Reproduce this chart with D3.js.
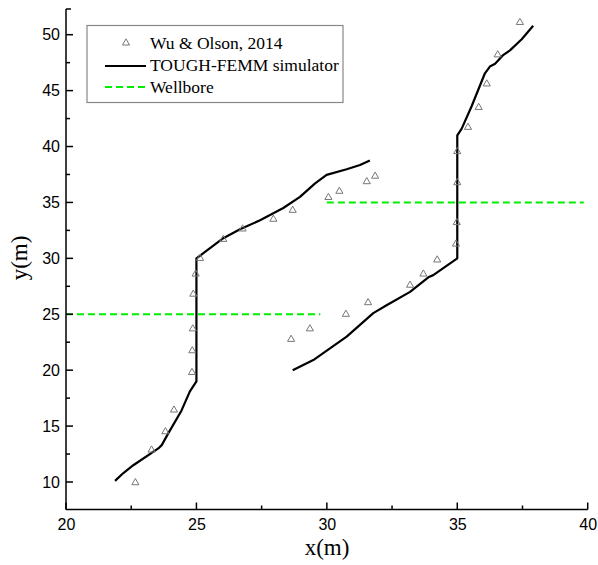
<!DOCTYPE html>
<html>
<head>
<meta charset="utf-8">
<script src="https://cdn.jsdelivr.net/npm/d3@7"></script>
<style>
  body { margin: 0; background: #fff; }
  svg { display: block; }
</style>
</head>
<body>
<svg id="chart" width="598" height="565"></svg>
<script>
// ---- Data ----
const wuOlsonX = [22.66, 23.28, 23.81, 24.14, 24.83, 24.84, 24.86, 24.88, 24.97, 25.14,
  26.03, 26.77, 27.95, 28.69, 30.06, 30.48, 31.53, 31.85,
  28.63, 29.35, 30.73, 31.58, 33.19, 33.70, 34.23, 34.95, 34.98, 35.0, 35.0,
  35.41, 35.82, 36.13, 36.55, 37.40];
const wuOlsonY = [9.94, 12.86, 14.5, 16.44, 19.8, 21.74, 23.7, 26.8, 28.6, 30.0,
  31.7, 32.63, 33.5, 34.3, 35.45, 36.0, 36.86, 37.35,
  22.76, 23.7, 25.0, 26.04, 27.6, 28.6, 29.86, 31.28, 33.2, 36.77, 39.55,
  41.72, 43.5, 45.6, 48.2, 51.1];

const simLeftX = [21.88, 22.2, 22.58, 23.54, 23.67, 23.92, 24.43, 24.75, 25.0, 25.0,
  26.03, 26.67, 27.44, 28.33, 28.97, 29.55, 29.99, 30.76, 31.27, 31.65];
const simLeftY = [10.1, 10.8, 11.5, 13.0, 13.3, 14.35, 16.4, 18.1, 19.0, 30.0,
  31.8, 32.6, 33.4, 34.5, 35.5, 36.7, 37.46, 37.97, 38.35, 38.75];

const simRightX = [28.69, 29.48, 30.76, 31.78, 32.29, 33.19, 33.89, 34.08, 35.0, 35.0,
  35.17, 35.55, 36.06, 36.25, 36.45, 36.77, 37.02, 37.47, 37.91];
const simRightY = [20.0, 20.9, 23.0, 25.1, 25.8, 27.0, 28.3, 28.5, 30.0, 41.0,
  41.6, 43.6, 46.55, 47.15, 47.4, 48.2, 48.6, 49.6, 50.8];

const wellboreX1 = [20, 29.75];
const wellboreY1 = [25, 25];
const wellboreX2 = [30, 39.85];
const wellboreY2 = [35, 35];

const xTicks = [20, 25, 30, 35, 40];
const yTicks = [10, 15, 20, 25, 30, 35, 40, 45, 50];
const xMinor = [22.5, 27.5, 32.5, 37.5];
const yMinor = [12.5, 17.5, 22.5, 27.5, 32.5, 37.5, 42.5, 47.5];
const legendLabels = ["Wu & Olson, 2014", "TOUGH-FEMM simulator", "Wellbore"];

// ---- Scales ----
const svg = d3.select("#chart");
const x = d3.scaleLinear().domain([20, 40]).range([66, 587.7]);
const y = d3.scaleLinear().domain([10, 50]).range([482, 34.7]);
const yBottom = 509.5, yTop = 9;

const pts = (xs, ys) => xs.map((v, i) => [v, ys[i]]);
const line = d3.line().x(d => x(d[0])).y(d => y(d[1]));

// Wellbore lines
[[wellboreX1, wellboreY1], [wellboreX2, wellboreY2]].forEach(([xs, ys]) => {
  svg.append("path").attr("d", line(pts(xs, ys)))
    .attr("fill", "none").attr("stroke", "#00ee00")
    .attr("stroke-width", 2).attr("stroke-dasharray", "7,4");
});

// Simulator lines
[[simLeftX, simLeftY], [simRightX, simRightY]].forEach(([xs, ys]) => {
  svg.append("path").attr("d", line(pts(xs, ys)))
    .attr("fill", "none").attr("stroke", "#000")
    .attr("stroke-width", 2.2).attr("stroke-linejoin", "round");
});

// Triangles
const tri = d3.symbol().type(d3.symbolTriangle).size(22);
svg.append("g").selectAll("path").data(pts(wuOlsonX, wuOlsonY)).join("path")
  .attr("d", tri)
  .attr("transform", d => `translate(${x(d[0])},${y(d[1])})`)
  .attr("fill", "none").attr("stroke", "#777").attr("stroke-width", 1);

// Axes
const xAxis = d3.axisBottom(x).tickValues(xTicks).tickSize(0).tickPadding(9).tickFormat(d3.format("d"));
const gx = svg.append("g").attr("transform", `translate(0,${yBottom})`).call(xAxis);
gx.select(".domain").remove();
gx.append("line").attr("x1", x(20)).attr("x2", x(40)).attr("stroke", "#000").attr("stroke-width", 1.5);
gx.selectAll(".tickIn").data(xTicks).join("line").attr("class", "tickIn")
  .attr("x1", d => x(d)).attr("x2", d => x(d)).attr("y1", 0).attr("y2", -7)
  .attr("stroke", "#000").attr("stroke-width", 1.5);
gx.selectAll(".tickMinor").data(xMinor).join("line").attr("class", "tickMinor")
  .attr("x1", d => x(d)).attr("x2", d => x(d)).attr("y1", 0).attr("y2", -4)
  .attr("stroke", "#000").attr("stroke-width", 1.5);
gx.selectAll("text").attr("font-family", "Liberation Sans, Arial, sans-serif").attr("font-size", 16).attr("fill", "#000");

const yAxis = d3.axisLeft(y).tickValues(yTicks).tickSize(0).tickPadding(6).tickFormat(d3.format("d"));
const gy = svg.append("g").attr("transform", `translate(${x(20)},0)`).call(yAxis);
gy.select(".domain").remove();
gy.append("line").attr("y1", yTop).attr("y2", yBottom).attr("stroke", "#000").attr("stroke-width", 1.5);
gy.append("line").attr("y1", yTop).attr("y2", yTop).attr("x1", 0).attr("x2", 5).attr("stroke", "#000").attr("stroke-width", 1.5);
gy.selectAll(".tickIn").data(yTicks).join("line").attr("class", "tickIn")
  .attr("y1", d => y(d)).attr("y2", d => y(d)).attr("x1", 0).attr("x2", 7)
  .attr("stroke", "#000").attr("stroke-width", 1.5);
gy.selectAll(".tickMinor").data(yMinor).join("line").attr("class", "tickMinor")
  .attr("y1", d => y(d)).attr("y2", d => y(d)).attr("x1", 0).attr("x2", 4)
  .attr("stroke", "#000").attr("stroke-width", 1.5);
gy.selectAll("text").attr("font-family", "Liberation Sans, Arial, sans-serif").attr("font-size", 16).attr("fill", "#000");

// Axis titles
svg.append("text").attr("x", 327).attr("y", 555).attr("text-anchor", "middle")
  .attr("font-family", "Liberation Serif, Times New Roman, serif").attr("font-size", 23).text("x(m)");
svg.append("text").attr("transform", "translate(27,258) rotate(-90)").attr("text-anchor", "middle")
  .attr("font-family", "Liberation Serif, Times New Roman, serif").attr("font-size", 23).text("y(m)");

// Legend
const lg = svg.append("g");
lg.append("rect").attr("x", 87).attr("y", 25.5).attr("width", 256).attr("height", 77)
  .attr("fill", "#fff").attr("stroke", "#888").attr("stroke-width", 1.2);
const rowY = [43, 65, 87];
lg.append("path").attr("d", tri).attr("transform", `translate(126,${rowY[0]})`)
  .attr("fill", "none").attr("stroke", "#777").attr("stroke-width", 1);
lg.append("line").attr("x1", 105).attr("x2", 146).attr("y1", rowY[1] + 1).attr("y2", rowY[1] + 1)
  .attr("stroke", "#000").attr("stroke-width", 2.2);
lg.append("line").attr("x1", 105).attr("x2", 146).attr("y1", rowY[2]).attr("y2", rowY[2])
  .attr("stroke", "#00ee00").attr("stroke-width", 2).attr("stroke-dasharray", "7,4");
lg.selectAll(".lt").data(legendLabels).join("text").attr("class", "lt")
  .attr("x", 150).attr("y", (d, i) => rowY[i]).attr("dy", "0.35em")
  .attr("font-family", "Liberation Serif, Times New Roman, serif").attr("font-size", 17.5)
  .text(d => d);
</script>
</body>
</html>
